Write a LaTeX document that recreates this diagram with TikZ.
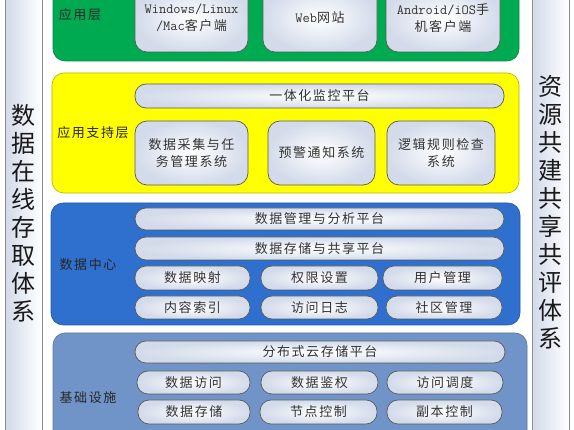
\documentclass[tikz,border=0pt]{standalone}
\usepackage{fontspec}
\setmainfont{Noto Sans CJK SC}
\newfontfamily\cjk{Noto Sans CJK SC}
\newfontfamily\cnspaced[LetterSpace=12]{Noto Sans CJK SC}
\newcommand\latinpart[1]{{\ttfamily\fontsize{14}{17}\selectfont #1}}
\definecolor{lgreen}{HTML}{00AA50}
\definecolor{lyellow}{HTML}{FFFF00}
\definecolor{lblue}{HTML}{2F6FCE}
\definecolor{lgblue}{HTML}{7094C8}
\definecolor{boxedge}{HTML}{D3DBEA}
\definecolor{sideedge}{HTML}{C6D0E4}
\definecolor{txt}{HTML}{333333}
\tikzset{
  layerbox/.style={rounded corners=12pt, line width=0.6pt},
  ibox/.style={draw=black!65, line width=0.7pt, inner color=white, outer color=boxedge},
  capbox/.style={ibox, rounded corners=11pt},
  tallbox/.style={ibox, rounded corners=12pt},
  itext/.style={font=\cnspaced\fontsize{13}{17}\selectfont, text=txt, align=center},
  ltext/.style={font=\cnspaced\fontsize{13}{17}\selectfont, text=black!85, anchor=center},
  sidebar/.style={draw=black!45, line width=0.7pt, left color=sideedge!80, right color=white},
  sidetext/.style={font=\cjk\fontsize{24}{28}\selectfont, align=center, text=black!90}
}
\begin{document}
\begin{tikzpicture}[x=1pt,y=-1pt]
\useasboundingbox (0,0) rectangle (574,430);
\clip (0,0) rectangle (574,430);
% side bars
\path[sidebar] (5,-10) rectangle (42,440);
\node[sidetext] (lside) at (23.5,213) {数\\据\\在\\线\\存\\取\\体\\系};
\path[sidebar] (532,-10) rectangle (569,440);
\node[sidetext] (rside) at (550.5,212) {资\\源\\共\\建\\共\\享\\共\\评\\体\\系};
% application layer
\path[layerbox, fill=lgreen, draw=lgreen!80!black] (53,-20) rectangle (519,61);
\node[ltext] (l1) at (80,15) {应用层};
\path[tallbox] (135,-15) rectangle (248,52);
\node[itext] (a1) at (191.5,18) {\latinpart{Windows/Linux}\\\latinpart{/Mac}客户端};
\path[tallbox] (263,-15) rectangle (377,52);
\node[itext] (a2) at (320,18) {\latinpart{Web}网站};
\path[tallbox] (386,-15) rectangle (500,52);
\node[itext] (a3) at (443,18) {\latinpart{Android/iOS}手\\机客户端};
% application support layer
\path[layerbox, fill=lyellow, draw=lyellow!70!black] (52,73) rectangle (519,193);
\node[ltext] (l2) at (93,133) {应用支持层};
\path[capbox] (135,84) rectangle (504,108);
\node[itext] (s0) at (319.5,96) {一体化监控平台};
\path[tallbox] (135,121) rectangle (248,185);
\node[itext] (s1) at (191.5,153) {数据采集与任\\务管理系统};
\path[tallbox] (268,121) rectangle (375,185);
\node[itext] (s2) at (321.5,153) {预警通知系统};
\path[tallbox] (387,121) rectangle (495,185);
\node[itext] (s3) at (441,153) {逻辑规则检查\\系统};
% data center
\path[layerbox, fill=lblue, draw=lblue!80!black] (51,203) rectangle (520,325);
\node[ltext] (l3) at (88,265) {数据中心};
\path[capbox] (135,208) rectangle (504,230);
\node[itext] (d0) at (319.5,219) {数据管理与分析平台};
\path[capbox] (135,237) rectangle (504,260);
\node[itext] (d1) at (319.5,248.5) {数据存储与共享平台};
\path[capbox] (135,266) rectangle (250,290);
\node[itext] (d2) at (192.5,278) {数据映射};
\path[capbox] (261,266) rectangle (378,290);
\node[itext] (d3) at (319.5,278) {权限设置};
\path[capbox] (383,266) rectangle (502,290);
\node[itext] (d4) at (442.5,278) {用户管理};
\path[capbox] (135,296) rectangle (250,319);
\node[itext] (d5) at (192.5,307.5) {内容索引};
\path[capbox] (261,296) rectangle (378,319);
\node[itext] (d6) at (319.5,307.5) {访问日志};
\path[capbox] (386,296) rectangle (502,319);
\node[itext] (d7) at (444,307.5) {社区管理};
% infrastructure
\path[layerbox, fill=lgblue, draw=lgblue!80!black] (53,333) rectangle (527,450);
\node[ltext] (l4) at (88,398) {基础设施};
\path[capbox] (135,341) rectangle (505,363);
\node[itext] (b0) at (320,352) {分布式云存储平台};
\path[capbox] (137,371) rectangle (250,394);
\node[itext] (b1) at (193.5,382.5) {数据访问};
\path[capbox] (261,371) rectangle (378,394);
\node[itext] (b2) at (319.5,382.5) {数据鉴权};
\path[capbox] (387,371) rectangle (503,394);
\node[itext] (b3) at (445,382.5) {访问调度};
\path[capbox] (138,400) rectangle (250,424);
\node[itext] (b4) at (194,412) {数据存储};
\path[capbox] (260,400) rectangle (377,424);
\node[itext] (b5) at (318.5,412) {节点控制};
\path[capbox] (387,400) rectangle (502,424);
\node[itext] (b6) at (444.5,412) {副本控制};
\end{tikzpicture}
\end{document}
